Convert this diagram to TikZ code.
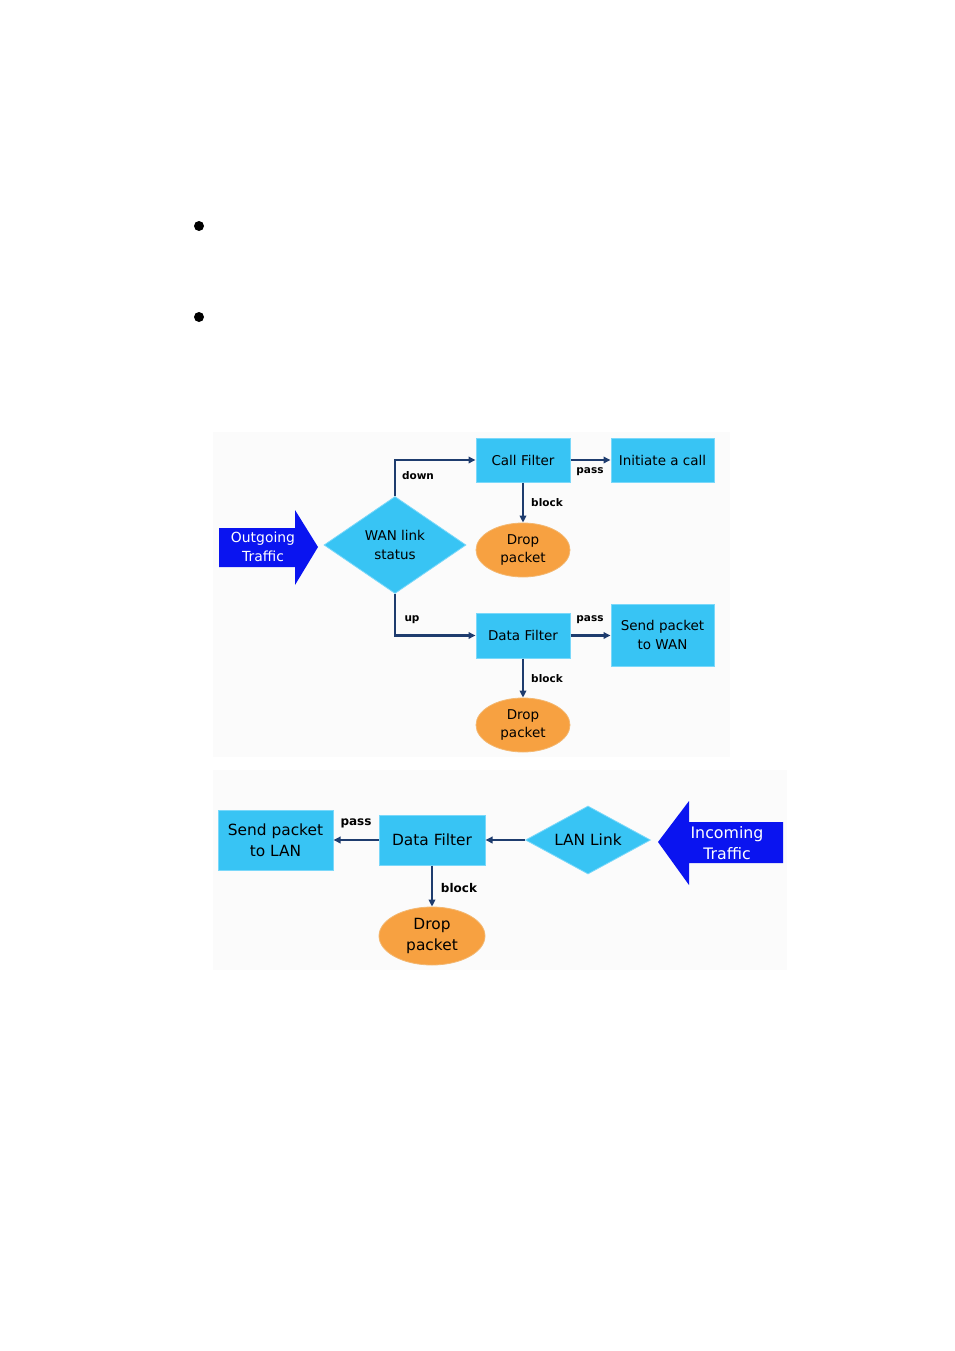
\documentclass[tikz,border=0pt]{standalone}
\usepackage{fontspec}
\setmainfont{DejaVu Sans}
\usetikzlibrary{shapes.geometric,arrows.meta}
\definecolor{boxblue}{HTML}{38C4F4}
\definecolor{boxedge}{HTML}{7AD8FA}
\definecolor{dropor}{HTML}{F7A141}
\definecolor{dropedge}{HTML}{F3B770}
\definecolor{navy}{HTML}{1E3C6E}
\definecolor{bigblue}{HTML}{0A14F0}
\definecolor{panel}{HTML}{FBFBFB}
\tikzset{
  ts/.style={font=\fontsize{13.5}{18.5}\selectfont, align=center, text=black},
  tb/.style={font=\fontsize{15.4}{21}\selectfont, align=center, text=black},
  boxn/.style={draw=boxedge, line width=1pt, fill=boxblue, inner sep=0pt},
  dropn/.style={ellipse, draw=dropedge, line width=0.8pt, fill=dropor, inner sep=0pt},
  dia/.style={diamond, fill=boxblue, draw=boxedge, line width=0.8pt, inner sep=0pt, aspect=1.45},
  conn/.style={draw=navy, line width=2.1pt, -{Triangle[length=7pt,width=6.5pt]}},
  bigarrow/.style={fill=bigblue},
  lbl/.style={font=\bfseries\fontsize{10.5}{12}\selectfont, text=black, inner sep=0pt},
  lblb/.style={font=\bfseries\fontsize{12}{14}\selectfont, text=black, inner sep=0pt},
}
\begin{document}
\begin{tikzpicture}[x=1pt,y=-1pt]
\useasboundingbox (0,0) rectangle (954,1351);
% panels
\fill[panel] (213,432) rectangle (730,757);
\fill[panel] (213,770) rectangle (787,970);
% bullets
\fill[black] (199,226) circle (5);
\fill[black] (199,317) circle (5);

% ---- outgoing section ----
\fill[bigarrow] (219,528) -- (295,528) -- (295,510) -- (318,547) -- (295,585) -- (295,567) -- (219,567) -- cycle;
\node[font=\fontsize{13.9}{19}\selectfont, align=center, text=white] (outt) at (263,547) {Outgoing\\Traffic};

\node[dia, minimum width=142pt, minimum height=97pt] (wan) at (395,545) {};
\node[ts] (want) at (395,545) {WAN link\\status};

\node[boxn, minimum width=94pt, minimum height=44pt, ts] (cf) at (523,460) {Call Filter};
\node[boxn, minimum width=103pt, minimum height=44pt, ts] (ic) at (662.5,460) {Initiate a call};
\node[dropn, minimum width=94pt, minimum height=54pt, ts] (d1) at (523,550) {Drop\\packet};

\node[boxn, minimum width=94pt, minimum height=45pt, ts] (df) at (523,635.5) {Data Filter};
\node[boxn, minimum width=103pt, minimum height=62pt, ts] (sw) at (662.5,635) {Send packet\\to WAN};
\node[dropn, minimum width=94pt, minimum height=54pt, ts] (d2) at (523,725) {Drop\\packet};

\draw[conn] (wan.north) |- (cf.west);
\draw[conn] (wan.south) |- (df.west);
\draw[conn] (cf.east) -- (ic.west);
\draw[conn] (cf.south) -- (d1.north);
\draw[conn] (df.east) -- (sw.west |- df.east);
\draw[conn] (df.south) -- (d2.north);

\node[lbl] (ldown) at (418,476) {down};
\node[lbl] (lup) at (412,620) {up};
\node[lbl] (lp1) at (590,472) {pass};
\node[lbl] (lb1) at (547,503) {block};
\node[lbl] (lp2) at (590,620) {pass};
\node[lbl] (lb2) at (547,679) {block};

% ---- incoming section ----
\fill[bigarrow] (783,822) -- (689,822) -- (689,801) -- (658,842) -- (689,885) -- (689,863) -- (783,863) -- cycle;
\node[font=\fontsize{15.8}{21}\selectfont, align=center, text=white] (inct) at (727,843) {Incoming\\Traffic};

\node[dia, minimum width=125pt, minimum height=68pt] (lan) at (588,840) {};
\node[tb] (lant) at (588,840) {LAN Link};

\node[boxn, minimum width=106pt, minimum height=50pt, tb] (df2) at (432,840) {Data Filter};
\node[boxn, minimum width=115pt, minimum height=60pt, tb] (sl) at (275.5,840) {Send packet\\to LAN};
\node[dropn, minimum width=106pt, minimum height=58pt, tb] (d3) at (432,936) {Drop\\packet};

\draw[conn] (lan.west) -- (df2.east);
\draw[conn] (df2.west) -- (sl.east);
\draw[conn] (df2.south) -- (d3.north);

\node[lblb] (lp3) at (356,823) {pass};
\node[lblb] (lb3) at (459,888) {block};
\end{tikzpicture}
\end{document}
